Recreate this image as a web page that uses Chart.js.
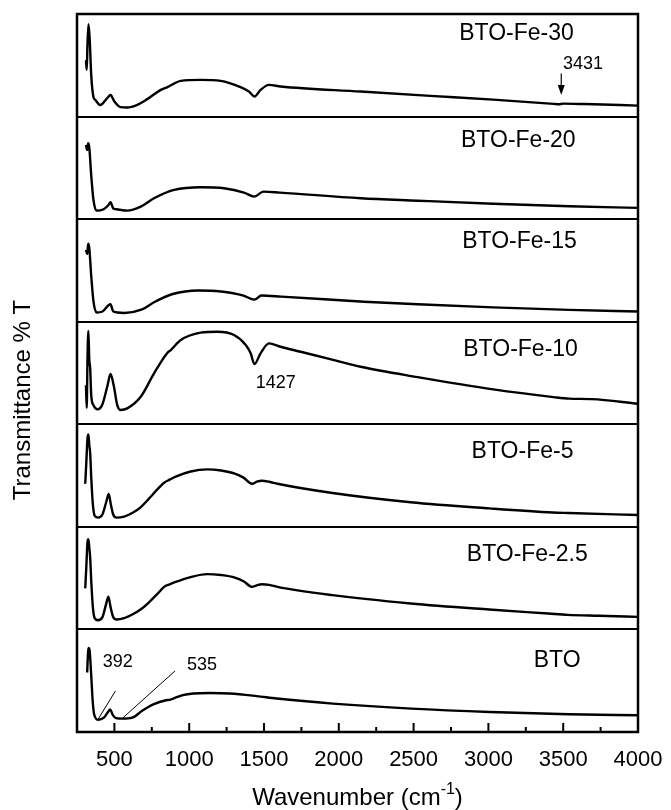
<!DOCTYPE html>
<html>
<head>
<meta charset="utf-8">
<title>FTIR spectra</title>
<script src="https://cdn.jsdelivr.net/npm/chart.js@4.4.1/dist/chart.umd.min.js"></script>
<style>
  html, body { margin: 0; padding: 0; background: #fff; }
  #wrap { position: relative; width: 671px; height: 810px; }
</style>
</head>
<body>
<div id="wrap"><canvas id="ftir"></canvas></div>
<script>
/* ========== DATA ========== */
// panels from bottom to top
const samples = ["BTO", "BTO-Fe-2.5", "BTO-Fe-5", "BTO-Fe-10", "BTO-Fe-15", "BTO-Fe-20", "BTO-Fe-30"];

const xTicks = [500, 1000, 1500, 2000, 2500, 3000, 3500, 4000];
const xMinorTicks = [750, 1250, 1750, 2250, 2750, 3250, 3750];

// wavenumber (cm-1) / transmittance read inside each panel (0 = panel bottom, 100 = panel top)
const btoX = [318, 324, 328, 334, 340, 347, 355, 365, 390, 430, 455, 472, 488, 510, 555, 620, 688, 760, 845, 875, 892, 958, 1028, 1135, 1272, 1450, 1585, 1960, 2485, 3010, 3535, 4000];
const btoT = [58, 78, 82, 80, 68, 50, 30, 17, 12, 14, 19, 22, 17, 13.5, 13, 14, 21, 27, 31, 31.5, 32.6, 36, 37.5, 38, 37.5, 35, 32.6, 27.7, 22.8, 19.5, 17.3, 16.3];

const fe25X = [305, 312, 320, 326, 332, 338, 346, 356, 368, 390, 420, 445, 460, 474, 492, 515, 565, 625, 675, 728, 790, 832, 870, 910, 1010, 1120, 1212, 1305, 1363, 1420, 1452, 1485, 1535, 1590, 1958, 2480, 3005, 3400, 3530, 3740, 4000];
const fe25T = [40, 60, 85, 88, 80, 70, 45, 22, 11, 9, 12, 25, 32, 22, 12, 9.7, 11, 15, 19.4, 26, 35, 41.5, 44, 46.3, 51, 53.9, 53, 50.6, 47, 41.5, 43, 44.1, 43.5, 41.5, 33.4, 25.3, 19.4, 15.5, 14.2, 13.3, 12.2];

const fe5X = [305, 312, 320, 326, 332, 338, 346, 356, 368, 390, 420, 445, 462, 476, 492, 515, 565, 625, 675, 728, 790, 832, 870, 910, 1010, 1120, 1212, 1305, 1363, 1420, 1452, 1485, 1535, 1590, 1958, 2480, 3005, 3430, 3535, 4000];
const fe5T = [42, 62, 86, 90, 80, 72, 46, 22, 11, 9, 12, 24, 32, 22, 12, 9, 10, 14, 19, 27, 37, 43, 46, 49, 54, 56, 55, 52, 48, 42, 44, 45, 44, 42, 33, 24, 18, 14, 13.5, 11.5];

const fe10X = [310, 315, 320, 326, 332, 338, 345, 360, 388, 418, 452, 474, 497, 519, 542, 586, 676, 765, 855, 877, 944, 1077, 1188, 1300, 1378, 1411, 1436, 1477, 1533, 1611, 1745, 1922, 2146, 2527, 3032, 3436, 3540, 3690, 4000];
const fe10T = [38, 16, 63, 91, 63, 55, 28.5, 18.7, 14.5, 18.7, 36.6, 49, 36.6, 18.7, 13.9, 15.5, 26.8, 49.7, 69.8, 72.4, 82.1, 89.3, 90.2, 87, 77.3, 69.2, 58.7, 69.2, 78.9, 75.6, 70.7, 64.3, 56.1, 46, 34, 26.5, 25, 24.5, 20];

const fe15X = [310, 318, 325, 332, 345, 360, 380, 420, 460, 474, 492, 565, 685, 765, 890, 1060, 1212, 1363, 1436, 1483, 1615, 2170, 2527, 3032, 3540, 4000];
const fe15T = [70, 66, 76, 72, 45, 20, 9, 10, 16, 17, 10, 8.5, 12, 19, 27, 30.5, 29.5, 25.5, 21.5, 25.5, 24.5, 19.5, 17, 14, 11.5, 10];

const fe20X = [310, 318, 325, 332, 345, 360, 380, 428, 462, 474, 492, 508, 586, 676, 765, 899, 1077, 1233, 1366, 1435, 1496, 1606, 2146, 2527, 3032, 3540, 4000];
const fe20T = [72.4, 67.5, 74, 70, 43, 18.7, 8.3, 9.7, 14, 16.5, 10.5, 9.7, 8.3, 12.2, 20.4, 28.5, 31.1, 30.1, 25.9, 22, 26.8, 25.9, 20.4, 18, 15, 12.5, 11];

const fe30X = [310, 315, 320, 327, 335, 345, 360, 372, 405, 452, 474, 500, 541, 586, 653, 720, 810, 855, 944, 1077, 1210, 1343, 1399, 1437, 1477, 1533, 1611, 2146, 2612, 3032, 3436, 3470, 3500, 3640, 4000];
const fe30T = [55, 45.5, 70, 90, 75, 40.6, 19, 16.3, 11.3, 18, 21, 14.6, 9.2, 8.8, 11.4, 17, 26, 28.7, 34.8, 35.8, 34.8, 28.7, 24.4, 19.5, 26, 30.9, 29.3, 24.4, 20.2, 16.5, 12.4, 12, 12.6, 12.2, 10.7];

const seriesX = [btoX, fe25X, fe5X, fe10X, fe15X, fe20X, fe30X];
const seriesT = [btoT, fe25T, fe5T, fe10T, fe15T, fe20T, fe30T];

/* ========== LAYOUT / LABEL PLACEMENT ========== */
const PANEL = 100;
const FONT = "'Liberation Sans', Arial, sans-serif";
// sample name position inside its panel [wavenumber, level]
const nameAt = [[3460, 71.7], [3260, 75.1], [3228, 75.6], [3215, 75], [3208, 79.5], [3200, 78], [3188, 82.4]];
// peak marks: text, panel, [x, level] of text, leader line from/to
const peakMarks = [
  { text: "392", panel: 0, at: [523, 70], from: [507, 40], to: [389, 12] },
  { text: "535", panel: 0, at: [1086, 66.5], from: [905, 59.5], to: [551, 13] },
  { text: "1427", panel: 3, at: [1579, 41.5] },
  { text: "3431", panel: 6, at: [3632, 52.7], arrow: [3487, 42, 21] },
];

const datasets = seriesX.map((xs, i) => ({
  label: samples[i],
  data: xs.map((v, k) => ({ x: v, y: i * PANEL + seriesT[i][k] })),
  borderColor: "#000",
  borderWidth: 2.4,
  pointRadius: 0,
  fill: false,
  cubicInterpolationMode: "monotone",
}));

/* ========== DECORATION PLUGIN ========== */
const decorations = {
  id: "decorations",
  afterDatasetsDraw(chart) {
    const { ctx, chartArea: a, scales: { x, y } } = chart;
    const py = (panel, v) => y.getPixelForValue(panel * PANEL + v);
    ctx.save();
    ctx.strokeStyle = "#000";
    ctx.fillStyle = "#000";

    // inner tick marks
    ctx.lineWidth = 2;
    ctx.beginPath();
    xTicks.forEach((v) => {
      const p = x.getPixelForValue(v);
      ctx.moveTo(p, a.bottom);
      ctx.lineTo(p, a.bottom - 9);
    });
    xMinorTicks.forEach((v) => {
      const p = x.getPixelForValue(v);
      ctx.moveTo(p, a.bottom);
      ctx.lineTo(p, a.bottom - 5);
    });
    ctx.stroke();

    // frame
    ctx.lineWidth = 2.5;
    ctx.strokeRect(a.left, a.top, a.right - a.left, a.bottom - a.top);

    // sample names
    ctx.font = "23px " + FONT;
    ctx.textAlign = "center";
    ctx.textBaseline = "alphabetic";
    samples.forEach((name, i) => {
      const [wx, lv] = nameAt[i];
      ctx.fillText(name, x.getPixelForValue(wx), py(i, lv) + 8.2);
    });

    // peak marks
    ctx.font = "18px " + FONT;
    peakMarks.forEach((m) => {
      ctx.fillText(m.text, x.getPixelForValue(m.at[0]), py(m.panel, m.at[1]) + 6.4);
      if (m.from) {
        ctx.lineWidth = 1;
        ctx.beginPath();
        ctx.moveTo(x.getPixelForValue(m.from[0]), py(m.panel, m.from[1]));
        ctx.lineTo(x.getPixelForValue(m.to[0]), py(m.panel, m.to[1]));
        ctx.stroke();
      }
      if (m.arrow) {
        const ax = x.getPixelForValue(m.arrow[0]);
        const y0 = py(m.panel, m.arrow[1]);
        const y1 = py(m.panel, m.arrow[2]);
        ctx.lineWidth = 1.2;
        ctx.beginPath();
        ctx.moveTo(ax, y0);
        ctx.lineTo(ax, y1 - 6);
        ctx.stroke();
        ctx.beginPath();
        ctx.moveTo(ax - 3.5, y1 - 10);
        ctx.lineTo(ax + 3.5, y1 - 10);
        ctx.lineTo(ax, y1);
        ctx.closePath();
        ctx.fill();
      }
    });

    // axis titles
    const mid = (a.left + a.right) / 2;
    ctx.font = "24px " + FONT;
    const part1 = "Wavenumber (cm";
    const w1 = ctx.measureText(part1).width;
    const w3 = ctx.measureText(")").width;
    ctx.font = "16px " + FONT;
    const w2 = ctx.measureText("-1").width;
    const tx = mid - (w1 + w2 + w3) / 2;
    ctx.textAlign = "left";
    ctx.font = "24px " + FONT;
    ctx.fillText(part1, tx, 805);
    ctx.font = "16px " + FONT;
    ctx.fillText("-1", tx + w1, 794);
    ctx.font = "24px " + FONT;
    ctx.fillText(")", tx + w1 + w2, 805);

    ctx.translate(30, 400);
    ctx.rotate(-Math.PI / 2);
    ctx.textAlign = "center";
    ctx.fillText("Transmittance % T", 0, 0);
    ctx.restore();
  },
};

/* ========== CHART ========== */
new Chart(document.getElementById("ftir"), {
  type: "line",
  data: { datasets },
  options: {
    responsive: true,
    maintainAspectRatio: false,
    animation: false,
    layout: { padding: { top: 14, right: 33, left: 0, bottom: 0 } },
    plugins: {
      legend: { display: false },
      tooltip: { enabled: false },
    },
    scales: {
      x: {
        type: "linear",
        min: 250,
        max: 4000,
        afterBuildTicks: (scale) => {
          scale.ticks = xTicks.map((v) => ({ value: v }));
        },
        afterFit: (scale) => {
          scale.height = 78;
        },
        grid: { display: false },
        border: { display: false },
        ticks: {
          color: "#000",
          padding: 7,
          maxRotation: 0,
          autoSkip: false,
          font: { size: 22, family: FONT },
          callback: (v) => String(v),
        },
      },
      y: {
        type: "linear",
        min: 0,
        max: samples.length * PANEL,
        afterFit: (scale) => {
          scale.width = 77;
        },
        ticks: { display: false, stepSize: PANEL },
        grid: { color: "#000", lineWidth: 2, drawTicks: false },
        border: { display: false },
      },
    },
  },
  plugins: [decorations],
});
</script>
</body>
</html>
